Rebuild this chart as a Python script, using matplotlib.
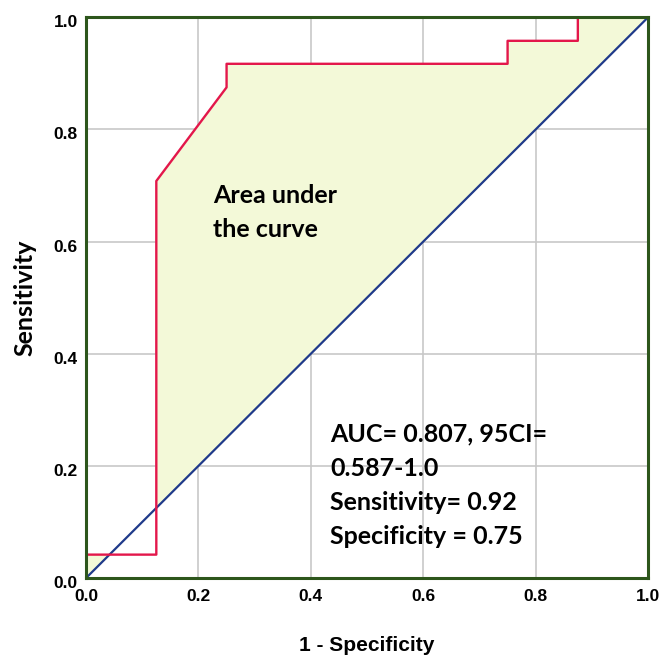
import numpy as np
import matplotlib
matplotlib.use("Agg")
from matplotlib import pyplot as plt
from matplotlib import transforms

# ROC curve points (1 - specificity, sensitivity)
fpr = [0.0, 0.0, 0.125, 0.125, 0.25, 0.25, 0.75, 0.75, 0.875, 0.875, 1.0]
tpr = [0.0, 0.0417, 0.0417, 0.708, 0.875, 0.917, 0.917, 0.958, 0.958, 1.0, 1.0]
ticks = [0.0, 0.2, 0.4, 0.6, 0.8, 1.0]
tick_labels = ["0.0", "0.2", "0.4", "0.6", "0.8", "1.0"]
area_lines = ["Area under", "the curve"]
stats = ["AUC= 0.807, 95CI=", "0.587-1.0", "Sensitivity= 0.92", "Specificity = 0.75"]

fig = plt.figure(figsize=(6.62, 6.64), dpi=100)
ax = fig.add_axes([0.130, 0.1295, 0.849, 0.8445])

x = np.array(fpr)
y = np.array(tpr)
ax.fill_between(x, y, x, where=y >= x, interpolate=True, color="#f3f9d8", zorder=1)
ax.grid(True, color="#c8c8c8", linewidth=1.2, zorder=0)
ax.set_axisbelow(True)
ax.plot([0, 1], [0, 1], color="#1f3a8a", linewidth=1.6, zorder=3)
ax.plot(fpr, tpr, color="#e3174b", linewidth=1.7, zorder=4)

ax.set_xlim(0, 1)
ax.set_ylim(0, 1)
ax.set_xticks(ticks)
ax.set_yticks(ticks)
ax.set_xticklabels(tick_labels, fontfamily="Liberation Sans", fontweight="bold", fontsize=12.5)
ax.set_yticklabels(tick_labels, fontfamily="Liberation Sans", fontweight="bold", fontsize=12.5)
ax.tick_params(axis="x", length=0, pad=8)
ax.tick_params(axis="y", length=0, pad=6)
# y tick labels sit a little low in the original
shift = transforms.ScaledTranslation(0, -0.04, fig.dpi_scale_trans)
for lab in ax.get_yticklabels():
    lab.set_transform(lab.get_transform() + shift)

for s in ax.spines.values():
    s.set_color("#2d561c")
    s.set_linewidth(2.2)
    s.set_zorder(5)

ax.set_xlabel("1 - Specificity", fontfamily="Liberation Sans", fontweight="bold", fontsize=15, va="center")
ax.xaxis.set_label_coords(0.5, -0.121)
ax.set_ylabel("Sensitivity", fontfamily="Lato", fontweight="bold", fontsize=18, va="center")
ax.yaxis.set_label_coords(-0.1085, 0.5)

for i, s in enumerate(area_lines):
    ax.text(0.226, 0.668 - i * 0.0606, s, fontfamily="Lato", fontweight="bold",
            fontsize=18, va="baseline", ha="left", zorder=6)
for i, s in enumerate(stats):
    ax.text(0.434, 0.244 - i * 0.0613, s, fontfamily="Lato", fontweight="bold",
            fontsize=18, va="baseline", ha="left", zorder=6)

fig.savefig("out.png", dpi=100)
